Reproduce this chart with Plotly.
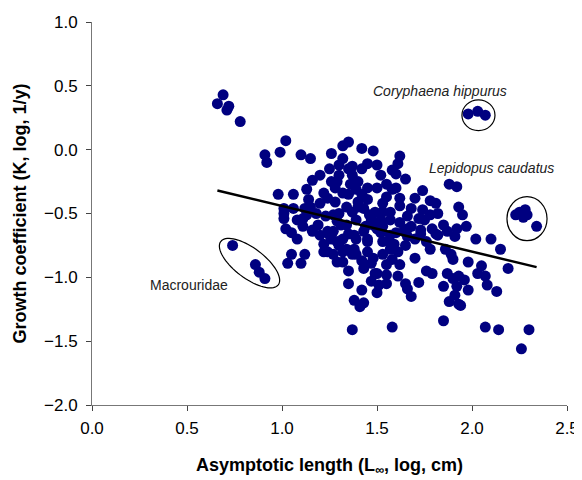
import numpy as np
import plotly.graph_objects as go

# asymptotic length (log L_inf, cm) and growth coefficient (log K, 1/y)
log_linf = [
    0.66, 0.69, 0.72, 0.71, 0.78, 1.02, 0.91, 0.92, 0.99, 1.10, 1.15, 1.26, 1.32, 1.32, 1.35, 1.42,
    1.48, 1.45, 1.37, 1.35, 1.62, 1.61, 1.58, 1.60, 1.65, 1.16, 1.13, 0.98, 1.06, 1.26, 1.29, 1.22,
    1.14, 1.12, 1.01, 1.01, 1.02, 1.11, 1.11, 1.16, 1.20, 1.24, 1.28, 1.32, 1.36, 1.37, 1.23, 1.27,
    1.31, 1.24, 1.35, 1.37, 1.40, 1.26, 1.32, 1.39, 1.58, 1.74, 1.88, 1.92, 1.81, 1.62, 1.68, 1.74,
    1.78, 1.82, 1.72, 1.66, 1.55, 1.53, 1.45, 1.43, 1.49, 1.57, 1.52, 1.39, 1.48, 1.53, 1.64, 1.73,
    1.79, 1.81, 1.87, 1.92, 1.38, 1.45, 1.53, 1.57, 1.61, 1.37, 1.43, 1.49, 1.55, 1.61, 1.47, 1.51,
    1.65, 1.66, 1.68, 1.72, 1.76, 1.79, 1.87, 1.90, 1.85, 1.92, 1.88, 1.93, 1.78, 1.86, 1.90, 1.38,
    1.43, 1.41, 1.85, 1.58, 1.37, 1.91, 2.02, 2.10, 2.15, 2.19, 2.05, 1.98, 1.96, 1.98, 2.03, 2.07,
    2.08, 2.13, 1.94, 2.07, 2.14, 2.30, 2.26, 1.73, 1.66, 1.85, 1.82, 1.91, 1.93, 1.89, 1.05, 1.03,
    1.10, 1.01, 1.06, 1.13, 1.22, 1.22, 1.27, 1.29, 1.32, 1.34, 1.39, 1.47, 1.50, 1.58, 1.76, 1.53,
    1.46, 1.34, 1.29, 1.25, 1.39, 1.45, 1.57, 1.50, 1.43, 1.29, 1.27, 1.20, 1.16, 1.19, 1.24, 1.32,
    1.38, 1.45, 1.53, 1.59, 1.93, 1.95, 1.97,
    1.20, 1.25, 1.30, 1.30, 1.28, 1.35, 1.40, 1.42, 1.45, 1.50, 1.52, 1.55, 1.60, 1.62, 1.57, 1.62,
    1.68, 1.70, 1.65, 1.70, 1.62, 1.55, 1.48, 1.42, 1.35, 1.30, 1.18, 1.15, 1.08, 1.05, 1.08, 1.12,
    1.40, 1.47, 1.44, 1.34, 1.30, 1.52, 1.56, 1.60, 1.66, 1.75, 1.78, 1.70, 1.42, 1.50, 1.55, 1.35,
    1.42, 1.50,
    # Macrouridae
    0.74, 0.86, 0.88, 0.91,
    # Coryphaena hippurus
    1.98, 2.03, 2.07,
    # Lepidopus caudatus
    2.23, 2.25, 2.28, 2.29, 2.27, 2.34,
]
log_k = [
    0.36, 0.43, 0.34, 0.31, 0.22, 0.07, -0.04, -0.10, -0.02, -0.04, -0.07, -0.03, -0.07, 0.03, 0.06, 0.01,
    -0.01, -0.11, -0.13, -0.15, -0.05, -0.11, -0.16, -0.19, -0.23, -0.24, -0.31, -0.35, -0.35, -0.25, -0.25, -0.34,
    -0.39, -0.46, -0.50, -0.54, -0.62, -0.54, -0.60, -0.64, -0.42, -0.38, -0.41, -0.34, -0.27, -0.20, -0.52, -0.51,
    -0.59, -0.64, -0.66, -0.49, -0.41, -0.70, -0.70, -0.31, -0.31, -0.32, -0.27, -0.29, -0.42, -0.44, -0.46, -0.47,
    -0.51, -0.50, -0.54, -0.52, -0.37, -0.42, -0.39, -0.46, -0.49, -0.49, -0.55, -0.55, -0.59, -0.60, -0.64, -0.63,
    -0.62, -0.66, -0.64, -0.62, -0.67, -0.70, -0.72, -0.78, -0.80, -0.82, -0.93, -0.97, -0.98, -0.99, -1.03, -1.06,
    -1.05, -1.09, -1.15, -1.04, -0.95, -0.97, -0.97, -1.01, -1.07, -1.07, -1.19, -1.21, -0.78, -0.78, -0.86, -1.18,
    -1.20, -1.23, -1.34, -1.39, -1.41, -0.68, -0.70, -0.70, -0.78, -0.93, -0.91, -0.88, -1.02, -1.10, -0.97, -0.99,
    -1.06, -1.11, -1.22, -1.39, -1.41, -1.41, -1.56, -0.66, -0.62, -0.59, -0.67, -1.14, -0.99, -0.82, -0.82, -0.89,
    -0.89, -0.46, -0.46, -0.51, -0.74, -0.80, -0.82, -0.88, -0.88, -0.78, -0.82, -0.89, -0.97, -0.86, -0.72, -0.49,
    -0.51, -0.59, -0.56, -0.67, -0.70, -0.72, -0.67, -0.62, -0.64, -0.72, -0.64, -0.67, -0.63, -0.59, -0.80, -0.80,
    -0.78, -0.80, -0.82, -0.74, -0.45, -0.51, -0.60,
    -0.20, -0.15, -0.20, -0.12, -0.30, -0.35, -0.25, -0.35, -0.30, -0.30, -0.20, -0.27, -0.30, -0.38, -0.55, -0.57,
    -0.60, -0.70, -0.75, -0.85, -0.90, -0.90, -0.85, -0.87, -0.95, -0.75, -0.50, -0.45, -0.55, -0.65, -0.70, -0.82,
    -0.45, -0.55, -0.60, -0.45, -0.50, -0.65, -0.72, -0.65, -0.68, -0.55, -0.40, -0.38, -1.10, -1.12, -1.05, -1.05,
    -0.15, -0.12,
    -0.75, -0.90, -0.96, -1.01,
    0.28, 0.30, 0.27,
    -0.51, -0.49, -0.47, -0.51, -0.53, -0.60,
]

# regression line end points
fit_x = [0.66, 2.34]
fit_y = [-0.32, -0.92]

fig = go.Figure()
fig.add_trace(go.Scatter(x=log_linf, y=log_k, mode="markers",
                         marker=dict(color="#000080", size=11, line=dict(width=0)),
                         showlegend=False))
fig.add_trace(go.Scatter(x=fit_x, y=fit_y, mode="lines",
                         line=dict(color="black", width=2.5), showlegend=False))

# plot area 475 x 383 px for x 0..2.5, y -2..1
sx, sy = 475 / 2.5, 383 / 3.0

# circles round the two pelagic species
fig.add_shape(type="circle", x0=1.947, x1=2.121, y0=0.149, y1=0.39,
              line=dict(color="black", width=1.2))
fig.add_shape(type="circle", x0=2.184, x1=2.395, y0=-0.713, y1=-0.368,
              line=dict(color="black", width=1.2))

# tilted ellipse round the Macrouridae
cx, cy, a, b, th = 0.829, -0.889, 36, 15, np.radians(37)
t = np.linspace(0, 2 * np.pi, 73)
dx = a * np.cos(t) * np.cos(th) - b * np.sin(t) * np.sin(th)
dy = a * np.cos(t) * np.sin(th) + b * np.sin(t) * np.cos(th)
ex = cx + dx / sx
ey = cy - dy / sy
path = "M " + " L ".join(f"{u:.4f},{v:.4f}" for u, v in zip(ex, ey)) + " Z"
fig.add_shape(type="path", path=path, line=dict(color="black", width=1.2))

fig.add_annotation(x=1.83, y=0.46, text="<i>Coryphaena hippurus</i>", showarrow=False,
                   font=dict(size=14, color="#222"))
fig.add_annotation(x=2.105, y=-0.14, text="<i>Lepidopus caudatus</i>", showarrow=False,
                   font=dict(size=14, color="#222"))
fig.add_annotation(x=0.51, y=-1.06, text="Macrouridae", showarrow=False,
                   font=dict(size=14, color="#222"))

fig.update_xaxes(range=[0, 2.5], tickvals=[0, 0.5, 1.0, 1.5, 2.0, 2.5], tickformat=".1f",
                 showgrid=False, zeroline=False, showline=True, linecolor="#777", linewidth=1,
                 ticks="outside", ticklen=5, tickcolor="#444", automargin=False,
                 ticklabelstandoff=3,
                 tickfont=dict(size=17, color="black"),
                 title=dict(text="<b>Asymptotic length (L<sub>∞</sub>, log, cm)</b>",
                            font=dict(size=18, color="black"), standoff=20))
fig.update_yaxes(range=[-2, 1], tickvals=[-2, -1.5, -1, -0.5, 0, 0.5, 1], tickformat=".1f",
                 showgrid=False, zeroline=False, showline=True, linecolor="#777", linewidth=1,
                 ticks="outside", ticklen=5, tickcolor="#444", automargin=False,
                 ticklabelstandoff=5,
                 tickfont=dict(size=17, color="black"),
                 title=dict(text="<b>Growth coefficient (K, log, 1/y)</b>",
                            font=dict(size=18, color="black"), standoff=12))
# the page body adds an 8 px margin, so the figure is 8 px smaller and shifted
fig.update_layout(width=574, height=472, plot_bgcolor="white", paper_bgcolor="white",
                  margin=dict(l=84, r=15, t=14, b=75),
                  font=dict(family="Liberation Sans, Arial, sans-serif"))

fig.write_html("out.html")
